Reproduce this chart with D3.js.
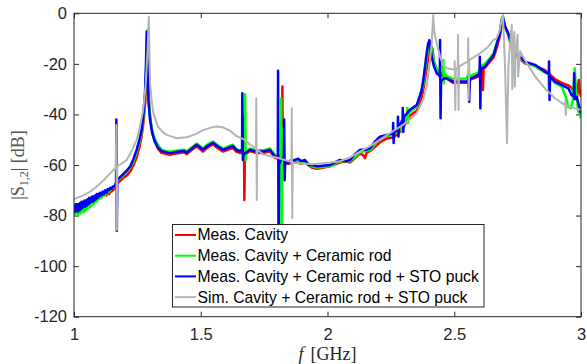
<!DOCTYPE html>
<html>
<head>
<meta charset="utf-8">
<script src="https://cdn.jsdelivr.net/npm/d3@7"></script>
<style>
  html, body { margin: 0; padding: 0; background: #fff; }
  svg { display: block; }
</style>
</head>
<body>
<svg id="chart" width="587" height="364"></svg>
<script>
// ---------------- DATA ----------------
const xTicks = [1, 1.5, 2, 2.5, 3];
const yTicks = [0, -20, -40, -60, -80, -100, -120];
const seriesNames = [
  "Meas. Cavity",
  "Meas. Cavity + Ceramic rod",
  "Meas. Cavity + Ceramic rod + STO puck",
  "Sim. Cavity + Ceramic rod + STO puck"
];
const seriesColors = ["#ff0000", "#00ff00", "#0000ff", "#b4b4b4"];

// [frequency GHz, |S12| dB]
const measCavity = [
[1.000,-76.5],[1.004,-78],[1.008,-76],[1.012,-77.5],[1.016,-76],[1.020,-78],[1.024,-75.5],[1.028,-77.5],
[1.033,-75],[1.038,-76.5],[1.043,-74.5],[1.048,-76],[1.053,-74],[1.058,-75.5],[1.063,-73.5],[1.068,-75],
[1.073,-73],[1.078,-74],[1.083,-72.5],[1.088,-74],[1.093,-72],[1.098,-73.5],[1.103,-71.5],[1.108,-72.5],
[1.113,-71],[1.118,-72],[1.123,-71],[1.128,-72],[1.133,-71],[1.138,-71.5],[1.143,-70.5],[1.148,-70.5],
[1.153,-70],[1.158,-69.5],[1.163,-69],[1.168,-67.5],[1.180,-66.5],[1.195,-65],[1.210,-64],[1.222,-62.5],
[1.235,-60],[1.247,-57],[1.258,-53],[1.267,-48.5],[1.274,-43],[1.281,-35],[1.286,-22],[1.289,-10],
[1.292,-22],[1.296,-36],[1.302,-43],[1.310,-48],[1.320,-51],[1.331,-53.5],[1.345,-55.2],[1.366,-55.7],
[1.379,-56],[1.395,-55.6],[1.418,-55.3],[1.435,-55],[1.445,-55.7],[1.465,-54],[1.484,-52.7],[1.497,-53.7],
[1.509,-54.7],[1.525,-53.2],[1.548,-51.8],[1.565,-53.2],[1.588,-54.7],[1.605,-54],[1.627,-53.2],[1.640,-54.7],
[1.655,-55.3],[1.669,-55],[1.670,-41],[1.672,-73.8],[1.674,-57],[1.680,-55.5],[1.694,-54.5],[1.720,-55.3],
[1.746,-55.3],[1.773,-54.6],[1.793,-57.2],[1.815,-57.5],[1.821,-58],[1.822,-29],[1.824,-62],[1.827,-59],
[1.845,-59.5],[1.860,-59],[1.872,-58.5],[1.895,-59.5],[1.911,-59],[1.938,-61],[1.960,-61.5],[2.010,-60.5],
[2.049,-59],[2.070,-58.5],[2.089,-59],[2.128,-55.5],[2.140,-56],[2.148,-57.3],[2.155,-55],[2.168,-54.5],
[2.207,-51],[2.234,-49.5],[2.260,-49],[2.280,-47.5],[2.300,-45],[2.325,-40.5],[2.352,-38.5],[2.370,-34],
[2.378,-30],[2.391,-22],[2.400,-16],[2.408,-13],[2.414,-14],[2.420,-19],[2.431,-22.5],[2.440,-24],
[2.465,-25.5],[2.496,-27.5],[2.549,-27.5],[2.557,-27],[2.559,-30],[2.562,-26.5],[2.569,-26],[2.595,-25],
[2.612,-22.5],[2.613,-30.3],[2.616,-22],[2.621,-21.5],[2.640,-19.2],[2.655,-17.5],[2.668,-13.5],[2.680,-9],
[2.688,-4],[2.693,-2.5],[2.700,-5.5],[2.713,-8.5],[2.727,-13.5],[2.740,-16.5],[2.753,-17.5],[2.779,-19.8],
[2.819,-20.8],[2.858,-22.5],[2.897,-26],[2.924,-27.5],[2.950,-28.5],[2.963,-29.5],[2.975,-32],[2.985,-33],
[2.991,-26.4],[2.994,-30],[3.000,-33]
];

const measCavityRod = [
[1.000,-77],[1.003,-79.5],[1.006,-76.5],[1.009,-79],[1.012,-77],[1.015,-80],[1.018,-77],[1.021,-79.5],
[1.024,-76.5],[1.027,-79],[1.030,-76.5],[1.033,-78.5],[1.036,-76],[1.039,-78.5],[1.042,-75.5],[1.045,-78],
[1.048,-75.5],[1.051,-77.5],[1.054,-75],[1.057,-77],[1.060,-74.5],[1.063,-76.5],[1.066,-74.5],[1.069,-76],
[1.073,-74],[1.078,-75.5],[1.083,-73.5],[1.088,-74.5],[1.093,-72.5],[1.098,-73.5],[1.103,-72],[1.108,-73],
[1.113,-71.5],[1.118,-72],[1.123,-71],[1.128,-71.5],[1.133,-70.5],[1.138,-70.5],[1.143,-70],[1.148,-69.5],
[1.153,-69],[1.158,-68.5],[1.163,-68],[1.168,-66.5],[1.180,-65.5],[1.195,-64],[1.210,-62.5],[1.222,-61],
[1.235,-58.5],[1.247,-55],[1.258,-51],[1.267,-47],[1.274,-41],[1.280,-33],[1.285,-20],[1.288,-6.8],
[1.291,-20],[1.295,-34],[1.300,-41],[1.308,-46],[1.318,-49.5],[1.331,-52],[1.345,-54],[1.366,-54.5],
[1.379,-54.8],[1.395,-54.5],[1.418,-54.2],[1.435,-54],[1.445,-54.6],[1.465,-53],[1.484,-51.5],[1.497,-52.5],
[1.509,-53.5],[1.525,-52],[1.548,-50.7],[1.565,-52],[1.588,-53.5],[1.605,-52.8],[1.627,-52],[1.640,-53.5],
[1.655,-54.2],[1.668,-53.5],[1.674,-53],[1.675,-32],[1.677,-58],[1.679,-55],[1.694,-53.5],[1.720,-54.2],
[1.746,-54.2],[1.773,-53.5],[1.793,-56],[1.810,-56.5],[1.816,-57],[1.817,-33.6],[1.819,-100],[1.821,-59],
[1.826,-58],[1.827,-45],[1.829,-62],[1.833,-58.5],[1.845,-58.5],[1.860,-58],[1.872,-58],[1.895,-59],
[1.911,-58.5],[1.938,-60.5],[1.960,-61],[2.010,-60.5],[2.049,-58.5],[2.089,-58.5],[2.128,-55],[2.168,-54],
[2.207,-49.5],[2.234,-48.5],[2.260,-48],[2.280,-46.5],[2.290,-45],[2.295,-47],[2.300,-44],[2.314,-40],
[2.315,-37.5],[2.317,-43.4],[2.319,-40],[2.325,-39],[2.352,-37],[2.378,-28],[2.391,-18],[2.398,-13],
[2.405,-11],[2.412,-15],[2.420,-19],[2.431,-22],[2.440,-23.5],[2.456,-24],[2.457,-18.5],[2.459,-27.7],
[2.461,-24],[2.470,-24.8],[2.496,-26],[2.549,-25.8],[2.556,-24],[2.558,-22],[2.560,-27],[2.569,-24.5],
[2.595,-23.5],[2.604,-21],[2.621,-20],[2.640,-17.8],[2.655,-15.8],[2.668,-11.5],[2.680,-7],[2.688,-2],
[2.692,-1.2],[2.700,-5],[2.713,-8.5],[2.727,-13.8],[2.740,-16.2],[2.753,-17],[2.779,-19.5],[2.819,-21],
[2.858,-23.5],[2.872,-24],[2.873,-30],[2.878,-25.5],[2.897,-27.5],[2.924,-29],[2.940,-33],[2.950,-37],
[2.960,-37.5],[2.968,-34],[2.975,-21.7],[2.980,-30],[2.988,-38],[3.000,-41.5]
];

const measCavityRodPuck = [
[1.000,-76],[1.003,-78.5],[1.006,-75.5],[1.009,-78],[1.012,-75.5],[1.015,-78.5],[1.018,-75.5],[1.021,-78],
[1.024,-75],[1.027,-77.5],[1.030,-74.5],[1.033,-77],[1.036,-74.5],[1.039,-76.5],[1.042,-74],[1.045,-76.5],
[1.048,-74],[1.051,-76],[1.054,-73.5],[1.057,-75.5],[1.060,-73],[1.063,-75],[1.066,-73],[1.069,-74.5],
[1.072,-72.5],[1.075,-74.5],[1.078,-72.5],[1.081,-74],[1.084,-72],[1.087,-73.5],[1.090,-71.5],[1.093,-73],
[1.096,-71.5],[1.099,-72.5],[1.103,-71],[1.108,-72],[1.113,-70.5],[1.118,-71.5],[1.123,-70],[1.128,-71],
[1.133,-69.5],[1.138,-70],[1.143,-69],[1.148,-69.5],[1.153,-68.5],[1.158,-68.5],[1.163,-68],[1.166,-67],
[1.167,-42],[1.169,-86],[1.171,-66],[1.180,-65],[1.195,-63.5],[1.210,-62],[1.222,-60.5],[1.235,-57.5],
[1.247,-54],[1.258,-50],[1.267,-46],[1.274,-40],[1.280,-32],[1.284,-20],[1.287,-7.3],[1.290,-20],
[1.294,-35],[1.300,-42],[1.308,-47],[1.318,-50.5],[1.331,-53],[1.345,-54.5],[1.366,-55],[1.379,-55.3],
[1.395,-55],[1.418,-54.7],[1.435,-54.5],[1.445,-55.1],[1.465,-53.5],[1.484,-52],[1.497,-53],[1.509,-54],
[1.525,-52.5],[1.548,-51.2],[1.565,-52.5],[1.588,-54],[1.605,-53.3],[1.627,-52.5],[1.640,-54],[1.655,-54.7],
[1.663,-54],[1.664,-31.6],[1.666,-58],[1.668,-56],[1.680,-55],[1.694,-54],[1.720,-54.7],[1.746,-54.7],
[1.773,-54],[1.793,-56.7],[1.804,-57],[1.805,-22.7],[1.807,-100],[1.809,-60],[1.815,-58],[1.828,-57],
[1.829,-42],[1.831,-66],[1.833,-59],[1.845,-59],[1.860,-58.5],[1.872,-58],[1.885,-57.5],[1.895,-58.5],
[1.911,-58],[1.925,-60],[1.938,-60],[1.960,-60.5],[2.010,-60],[2.030,-59],[2.049,-58],[2.070,-58.5],
[2.089,-58],[2.105,-56],[2.128,-54],[2.150,-54],[2.168,-53.4],[2.185,-51],[2.207,-48.8],[2.234,-48.1],
[2.258,-47.5],[2.259,-43.4],[2.261,-51.3],[2.263,-47],[2.277,-46],[2.278,-40.9],[2.280,-48.8],[2.282,-45],
[2.296,-42],[2.297,-37.5],[2.299,-46.8],[2.301,-41],[2.325,-38.2],[2.352,-36.3],[2.370,-31],[2.378,-26.4],
[2.386,-20],[2.391,-15.8],[2.397,-12],[2.402,-10.6],[2.407,-14],[2.411,-17.2],[2.420,-21],[2.431,-23.7],
[2.440,-24.5],[2.443,-25],[2.444,-10.6],[2.446,-41.5],[2.448,-27],[2.458,-25.8],[2.470,-25.7],[2.496,-27],
[2.520,-27],[2.549,-27],[2.556,-26.5],[2.557,-25],[2.559,-35],[2.561,-26],[2.569,-25.6],[2.595,-24.4],
[2.600,-23],[2.601,-17.2],[2.603,-37.6],[2.605,-22],[2.621,-21.1],[2.640,-18.5],[2.655,-16.5],[2.668,-12],
[2.680,-7.9],[2.687,-3],[2.692,-1.5],[2.700,-5],[2.713,-7.9],[2.727,-13.2],[2.740,-16],[2.753,-16.5],
[2.779,-19.1],[2.819,-20.4],[2.858,-23.1],[2.873,-24],[2.874,-19.1],[2.876,-34.3],[2.878,-25],[2.897,-27],
[2.924,-28.4],[2.950,-29.7],[2.963,-32.3],[2.972,-33],[2.973,-23.7],[2.975,-34],[2.983,-33],[3.000,-39.6]
];

const simCavityRodPuck = [
[1.000,-73.5],[1.030,-72.3],[1.063,-70.6],[1.085,-68.9],[1.103,-67.3],[1.125,-65.2],[1.142,-63.3],[1.165,-61],
[1.167,-44.2],[1.169,-85.7],[1.171,-60.5],[1.190,-59.3],[1.208,-58],[1.230,-54],[1.247,-50.1],[1.262,-44],
[1.273,-38.2],[1.283,-28],[1.290,-15],[1.295,-1.4],[1.300,-27.6],[1.307,-35],[1.313,-39.5],[1.331,-44.8],
[1.350,-47],[1.366,-48.1],[1.405,-49.4],[1.445,-49],[1.480,-47.8],[1.509,-46.2],[1.540,-45.2],[1.563,-44.8],
[1.590,-45.2],[1.615,-46.4],[1.640,-48.5],[1.675,-50.1],[1.695,-52],[1.718,-53.5],[1.719,-33.6],[1.721,-73.8],
[1.723,-54],[1.746,-55.8],[1.773,-56.5],[1.806,-57.2],[1.858,-58.8],[1.859,-37.6],[1.861,-81],[1.863,-59],
[1.872,-59.2],[1.938,-59.7],[2.010,-59],[2.049,-58.5],[2.089,-57],[2.128,-54.7],[2.168,-52.5],[2.207,-50],
[2.260,-46.5],[2.300,-44],[2.325,-42],[2.352,-39.5],[2.378,-34],[2.391,-29],[2.403,-20],[2.411,-12],
[2.417,-0.7],[2.422,-8],[2.431,-11.8],[2.445,-17.5],[2.457,-20.4],[2.470,-21.7],[2.485,-22],[2.501,-22.2],
[2.502,-19],[2.504,-38.2],[2.506,-22],[2.514,-21.5],[2.515,-8.6],[2.517,-38.2],[2.519,-21],[2.554,-19],
[2.555,-9.9],[2.557,-34.3],[2.559,-18.5],[2.602,-15.8],[2.634,-13.2],[2.654,-10.6],[2.667,-9.9],[2.680,-6.6],
[2.687,-2.6],[2.692,-0.7],[2.700,-20],[2.708,-51.4],[2.714,-20],[2.722,-10],[2.727,-4.6],[2.729,-30],
[2.733,-14],[2.737,-7.3],[2.739,-29],[2.742,-16],[2.750,-8.5],[2.752,-25],[2.760,-15],[2.779,-18.5],
[2.819,-25],[2.858,-29.7],[2.897,-33.6],[2.937,-36.3],[2.938,-34.3],[2.940,-40.2],[2.943,-36.5],[2.970,-37.5],
[3.000,-38.2]
];

const allSeries = [measCavity, measCavityRod, measCavityRodPuck, simCavityRodPuck];
const seriesWidths = [2.5, 2.5, 2.5, 2];

// ---------------- CHART ----------------
const svg = d3.select("#chart");
const margin = {left: 74, top: 13.3, right: 587 - 581, bottom: 364 - 316.7};
const W = 587, H = 364;
const x = d3.scaleLinear().domain([1, 3]).range([margin.left, W - margin.right]);
const y = d3.scaleLinear().domain([-120, 0]).range([H - margin.bottom, margin.top]);
const axisColor = "#262626";
const sans = "'Liberation Sans', Arial, Helvetica, sans-serif";
const serif = "'Liberation Serif', 'Times New Roman', serif";

svg.append("defs").append("clipPath").attr("id", "clip")
  .append("rect").attr("x", x(1)).attr("y", y(0))
  .attr("width", x(3) - x(1)).attr("height", y(-120) - y(0));

// axes (ticks inside, mirrored)
const gx = svg.append("g").attr("transform", `translate(0,${y(-120)})`)
  .call(d3.axisBottom(x).tickValues(xTicks).tickFormat(d3.format("")).tickSizeInner(-5).tickSizeOuter(0).tickPadding(12));
const gxt = svg.append("g").attr("transform", `translate(0,${y(0)})`)
  .call(d3.axisTop(x).tickValues(xTicks).tickFormat("").tickSizeInner(-5).tickSizeOuter(0));
const gy = svg.append("g").attr("transform", `translate(${x(1)},0)`)
  .call(d3.axisLeft(y).tickValues(yTicks).tickFormat(d3.format("")).tickSizeInner(-5).tickSizeOuter(0).tickPadding(7));
const gyr = svg.append("g").attr("transform", `translate(${x(3)},0)`)
  .call(d3.axisRight(y).tickValues(yTicks).tickFormat("").tickSizeInner(-5).tickSizeOuter(0));
[gx, gxt, gy, gyr].forEach(g => {
  g.select(".domain").remove();
  g.selectAll(".tick line").attr("stroke", axisColor).attr("stroke-width", 1);
  g.selectAll("text").attr("fill", axisColor).style("font-family", sans).style("font-size", "16.5px");
});
gy.selectAll("text").text(d => String(d));

// data lines
const line = d3.line().x(d => x(d[0])).y(d => y(d[1]));
const gLines = svg.append("g").attr("clip-path", "url(#clip)");
allSeries.forEach((s, i) => {
  gLines.append("path").datum(s).attr("d", line)
    .attr("fill", "none").attr("stroke", seriesColors[i])
    .attr("stroke-width", seriesWidths[i]).attr("stroke-linejoin", "round");
});

// frame
svg.append("rect").attr("x", x(1)).attr("y", y(0))
  .attr("width", x(3) - x(1)).attr("height", y(-120) - y(0))
  .attr("fill", "none").attr("stroke", axisColor).attr("stroke-width", 1);

// axis labels
const xl = svg.append("text").attr("x", (x(1) + x(3)) / 2).attr("y", 360)
  .attr("text-anchor", "middle").attr("fill", axisColor)
  .style("font-family", serif).style("font-size", "18px");
xl.append("tspan").attr("font-style", "italic").text("f");
xl.append("tspan").text("\u2009\u2009[GHz]");

const yl = svg.append("text")
  .attr("transform", `translate(24,${(y(0) + y(-120)) / 2}) rotate(-90)`)
  .attr("text-anchor", "middle").attr("fill", "#555")
  .style("font-family", serif).style("font-size", "18px");
yl.append("tspan").text("|S");
yl.append("tspan").attr("font-size", "12px").attr("dy", 4).text("1,2");
yl.append("tspan").attr("dy", -4).text("| [dB]");

// legend
const lg = svg.append("g");
lg.append("rect").attr("x", 172.5).attr("y", 224.5).attr("width", 311.5).attr("height", 82.5)
  .attr("fill", "#fff").attr("stroke", axisColor).attr("stroke-width", 1);
seriesNames.forEach((name, i) => {
  const yy = 235 + i * 20.7;
  lg.append("line").attr("x1", 175).attr("x2", 196).attr("y1", yy).attr("y2", yy)
    .attr("stroke", seriesColors[i]).attr("stroke-width", 2);
  lg.append("text").attr("x", 197.5).attr("y", yy).attr("dy", "0.35em")
    .attr("fill", "#000").style("font-family", sans).style("font-size", "15.7px").text(name);
});
</script>
</body>
</html>
